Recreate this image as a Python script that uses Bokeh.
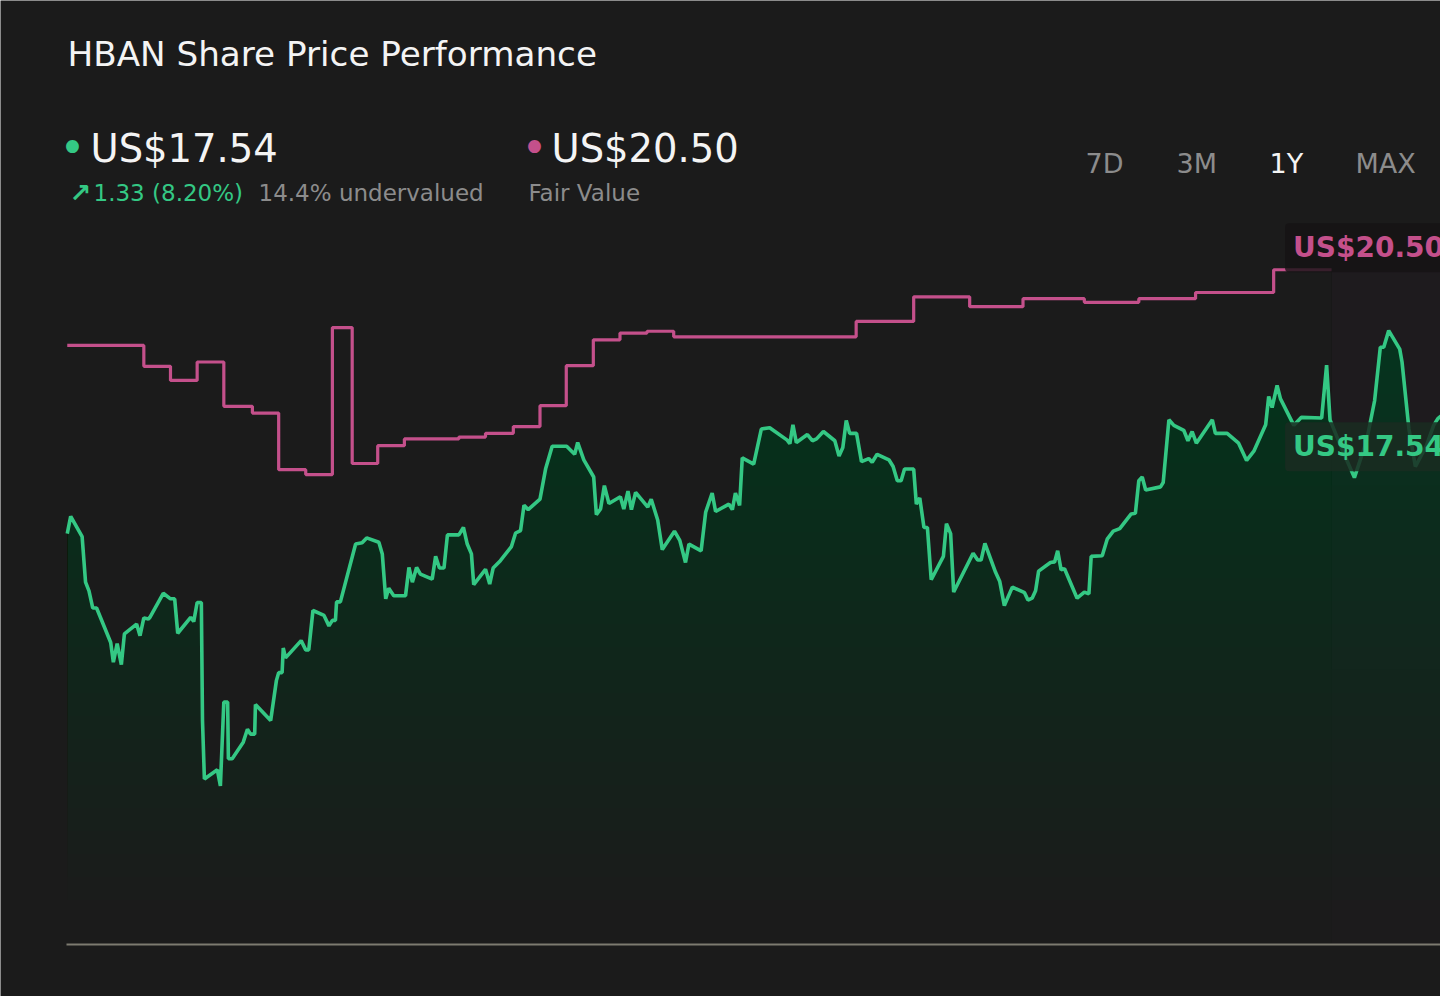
import numpy as np
from bokeh.plotting import figure
from bokeh.models import Range1d, Label
from bokeh.embed import file_html
from bokeh.resources import INLINE

# ---------------- data ----------------
# calendar-day offsets from the start of the 1Y window, and HBAN close prices (US$)
days = [
    0, 0.9, 3.9, 4.8, 5.7, 6.7, 7.7, 11.4, 12.1, 13.1,
    14.2, 15.0, 18.2, 19.1, 20.1, 21.3, 21.7, 25.2, 27.1, 28.2,
    29.0, 32.4, 33.2, 34.1, 35.2, 35.5, 36.0, 39.4, 40.2, 41.1,
    42.1, 42.3, 43.3, 46.2, 47.3, 48.1, 49.2, 49.4, 53.4, 54.9,
    55.5, 56.4, 56.7, 57.3, 61.4, 62.6, 63.4, 64.5, 67.4, 68.7,
    69.6, 70.4, 70.7, 71.7, 75.7, 77.4, 78.6, 81.8, 82.7, 83.6,
    84.4, 85.7, 88.8, 89.7, 90.6, 91.7, 92.7, 95.8, 96.7, 97.7,
    98.9, 99.8, 102.8, 104.0, 105.0, 106.1, 106.7, 109.8, 110.9, 111.8,
    113.7, 116.6, 117.7, 119.0, 119.9, 121.0, 124.1, 125.6, 127.3, 131.1,
    133.2, 134.0, 135.6, 138.2, 138.9, 140.0, 141.0, 142.2, 145.2, 146.1,
    147.2, 148.1, 149.2, 152.4, 153.3, 155.0, 156.2, 159.4, 160.8, 162.3,
    163.2, 166.4, 167.6, 169.3, 170.2, 173.7, 174.6, 175.4, 176.5, 177.2,
    180.2, 182.2, 184.4, 189.0, 189.7, 190.5, 191.4, 194.3, 195.6, 196.7,
    198.5, 201.5, 202.6, 203.6, 204.5, 205.4, 207.2, 208.5, 210.4, 211.3,
    212.6, 215.7, 216.8, 217.9, 218.9, 219.8, 222.2, 222.9, 223.8, 224.9,
    225.8, 226.8, 230.0, 230.8, 231.9, 232.7, 237.8, 239.0, 239.9, 240.9,
    243.7, 244.8, 246.0, 248.1, 251.3, 252.2, 253.3, 254.2, 255.0, 258.1,
    259.2, 260.0, 260.9, 261.8, 265.1, 267.0, 268.2, 268.8, 271.7, 273.0,
    274.6, 276.3, 279.3, 280.4, 281.3, 282.2, 283.1, 287.0, 287.7, 289.2,
    290.5, 293.1, 294.2, 295.3, 296.4, 300.6, 301.4, 304.5, 307.5, 309.6,
    311.5, 314.6, 315.4, 316.3, 317.6, 318.5, 322.0, 324.0, 329.3, 330.6,
    331.5, 334.8, 337.9, 341.1, 343.2, 344.7, 345.6, 346.9, 349.8, 350.4,
    352.2, 353.9, 356.8, 358.7, 359.8, 361.8, 364.5,
]
prices = [
    16.21, 16.49, 16.16, 15.42, 15.28, 15.00, 15.00, 14.44, 14.12, 14.42,
    14.08, 14.58, 14.74, 14.55, 14.84, 14.82, 14.85, 15.24, 15.15, 15.15,
    14.59, 14.85, 14.78, 15.09, 15.09, 13.17, 12.22, 12.37, 12.11, 13.47,
    13.47, 12.55, 12.55, 12.82, 13.03, 12.95, 12.95, 13.43, 13.17, 13.82,
    13.95, 13.95, 14.35, 14.19, 14.47, 14.32, 14.32, 14.96, 14.88, 14.71,
    14.80, 14.80, 15.10, 15.10, 16.04, 16.06, 16.14, 16.07, 15.88, 15.15,
    15.32, 15.20, 15.20, 15.66, 15.42, 15.66, 15.55, 15.47, 15.84, 15.65,
    15.65, 16.19, 16.19, 16.31, 16.04, 15.88, 15.38, 15.63, 15.39, 15.65,
    15.77, 16.00, 16.22, 16.26, 16.67, 16.60, 16.77, 17.27, 17.63, 17.63,
    17.50, 17.69, 17.41, 17.13, 16.52, 16.61, 16.99, 16.70, 16.81, 16.61,
    16.90, 16.60, 16.88, 16.64, 16.77, 16.43, 15.95, 16.25, 16.10, 15.74,
    16.04, 15.93, 16.56, 16.87, 16.57, 16.69, 16.60, 16.87, 16.67, 17.44,
    17.34, 17.91, 17.93, 17.73, 17.67, 17.98, 17.69, 17.82, 17.72, 17.75,
    17.87, 17.72, 17.47, 17.61, 18.05, 17.84, 17.84, 17.38, 17.43, 17.37,
    17.50, 17.41, 17.30, 17.07, 17.07, 17.26, 17.26, 16.69, 16.79, 16.31,
    16.31, 15.46, 15.84, 16.37, 16.21, 15.26, 15.89, 15.78, 15.78, 16.05,
    15.58, 15.43, 15.04, 15.34, 15.25, 15.13, 15.16, 15.28, 15.60, 15.74,
    15.75, 15.93, 15.62, 15.64, 15.16, 15.26, 15.23, 15.84, 15.85, 16.12,
    16.25, 16.29, 16.53, 16.54, 17.07, 17.13, 16.92, 16.97, 17.04, 18.06,
    17.97, 17.89, 17.72, 17.87, 17.68, 18.06, 17.84, 17.84, 17.68, 17.40,
    17.55, 17.98, 18.44, 18.26, 18.62, 18.40, 17.97, 18.10, 18.09, 18.95,
    18.06, 17.56, 17.12, 17.72, 18.37, 19.24, 19.24, 19.51, 19.21, 19.00,
    17.92, 17.30, 17.64, 17.97, 18.08, 18.18, 17.54,
]
# fair value estimate (step series)
fv_days = [0, 20.1, 27.1, 34.1, 41.1, 48.6, 55.5, 62.6, 69.6, 74.8,
           81.5, 88.5, 102.8, 109.8, 117.1, 124.1, 131.0, 138.1, 145.1, 152.2,
           159.2, 207.1, 222.2, 236.9, 250.9, 267.0, 281.3, 296.2, 316.7, 331.9]
fv_values = [19.27, 18.93, 18.70, 19.00, 18.28, 18.17, 17.25, 17.17, 19.56, 17.35,
             17.64, 17.75, 17.78, 17.84, 17.95, 18.29, 18.94, 19.36, 19.47, 19.50,
             19.41, 19.66, 20.06, 19.90, 20.03, 19.97, 20.03, 20.13, 20.50, 20.50]

last_price = 17.54
fair_value = 20.50
change_text = "1.33 (8.20%)"
valuation_text = "14.4% undervalued"
periods = ["7D", "3M", "1Y", "MAX"]
active_period = "1Y"

assert len(days) == len(prices)
assert len(fv_days) == len(fv_values)

# ---------------- styling ----------------
BG = "#1b1b1b"
GREEN = "#34c884"
PINK = "#c4508b"
GREY = "#8c8c8c"
WHITE = "#f4f4f4"
FONT = "DejaVu Sans"

W, H = 1440, 996
X_START, X_END = -0.2, 360.5          # data window of the chart body
BASE, Y_MAX = 9.53, 24.877             # price at the baseline / at the top of the page
PX_LEFT, PX_BASE = 66, 944             # where the chart body starts / its baseline on the page
px_per_day = (W - PX_LEFT) / (X_END - X_START)
px_per_usd = PX_BASE / (Y_MAX - BASE)
x_lo = X_START - PX_LEFT / px_per_day
y_lo = BASE - (H - PX_BASE) / px_per_usd

p = figure(width=W, height=H, output_backend="svg", toolbar_location=None,
           x_range=Range1d(x_lo, X_END), y_range=Range1d(y_lo, Y_MAX),
           x_axis_location=None, y_axis_location=None, min_border=0,
           background_fill_color=BG, border_fill_color=None, outline_line_color=None)
p.grid.visible = False

# subtle tint of the region after the last fair value update
x_tint0 = fv_days[-1]
for lvl in [BASE, 14.0, 17.0]:
    p.quad(left=x_tint0, right=X_END + 5, bottom=lvl, top=fair_value,
           fill_color=PINK, fill_alpha=3 / 255, line_color=None)

# vertical gradient under the price line, built from stacked translucent areas
pr = np.array(prices)
for lvl in np.linspace(10.25, 19.6, 26):
    p.varea(x=days, y1=np.full(len(days), lvl), y2=np.maximum(pr, lvl),
            fill_color=GREEN, fill_alpha=2 / 255)

# baseline (x axis line)
p.segment(x0=[X_START], x1=[X_END + 5], y0=[BASE], y1=[BASE], line_color="#7d7b70", line_width=2)

p.step(fv_days, fv_values, mode="after", line_color=PINK, line_width=3.2)
p.line(days, prices, line_color=GREEN, line_width=3.6)

# value tags at the right edge
tag_x = 319.7
p.add_layout(Label(x=tag_x, y=fair_value, y_offset=22, text="US$%.2f" % fair_value,
                   text_font=FONT, text_font_style="bold", text_font_size="28px",
                   text_color=PINK, text_baseline="middle", text_align="left",
                   background_fill_color="#151314", background_fill_alpha=0.8,
                   padding=8, border_radius=4))
p.add_layout(Label(x=tag_x, y=last_price, y_offset=5, text="US$%.2f" % last_price,
                   text_font=FONT, text_font_style="bold", text_font_size="28px",
                   text_color=GREEN, text_baseline="middle", text_align="left",
                   background_fill_color="#1a2b21", background_fill_alpha=0.85,
                   padding=8, border_radius=4))


# ---------------- header (screen units: frame = whole canvas, origin bottom-left) ----------------
def hlabel(x, baseline, text, size, color, align="left", style="normal"):
    # place text by its baseline (page px from top), using a middle anchor
    ymid = H - (baseline - 0.35 * size)
    p.add_layout(Label(x=x, y=ymid, x_units="screen", y_units="screen", text=text,
                       text_font=FONT, text_font_size="%.1fpx" % size, text_color=color,
                       text_font_style=style, text_align=align, text_baseline="middle"))


hlabel(67, 65, "HBAN Share Price Performance", 34.2, WHITE)
hlabel(72, 162, "\u2022", 44, GREEN, "center")
hlabel(90, 161, "US$%.2f" % last_price, 38.5, WHITE)
hlabel(534, 162, "\u2022", 44, PINK, "center")
hlabel(551, 161, "US$%.2f" % fair_value, 38.5, WHITE)
hlabel(69, 202, "\u2197", 26, GREEN, style="bold")
hlabel(93, 201, change_text, 23, GREEN)
hlabel(258, 201, valuation_text, 23, GREY)
hlabel(528, 201, "Fair Value", 23, GREY)
for px, lab in zip([1085, 1176, 1269, 1355], periods):
    hlabel(px, 172, lab, 27, WHITE if lab == active_period else GREY)

open("out.html", "w").write(file_html(p, INLINE))
